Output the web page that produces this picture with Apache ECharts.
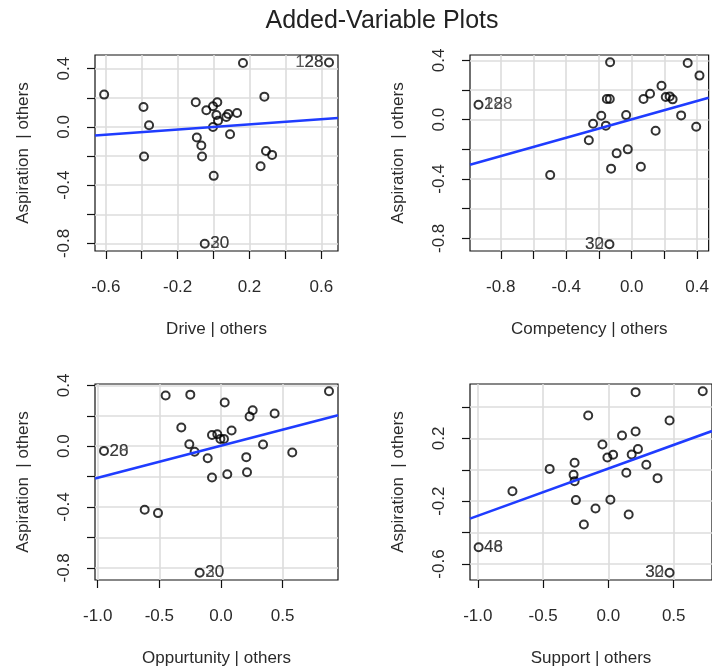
<!DOCTYPE html>
<html lang="en">

<head>
    <meta charset="UTF-8">
    <title>Added-Variable Plots</title>
    <script src="https://cdn.jsdelivr.net/npm/echarts@6/dist/echarts.min.js"></script>
    <style>
        html, body { margin: 0; padding: 0; background: #fff; }
        #av { width: 712px; height: 670px; }
    </style>
</head>

<body>
    <div id="av"></div>

    <script>
        // Drive | others
        var driveX = [-0.609, 0.164, 0.643, -0.390, -0.359, -0.387, -0.099, -0.040, -0.003, 0.021, 0.016, 0.025, -0.003,
            0.071, 0.082, 0.131, 0.283, 0.092, -0.093, -0.068, -0.064, 0.001, 0.262, 0.292, 0.326, -0.049];
        var driveY = [0.222, 0.439, 0.443, 0.137, 0.011, -0.203, 0.169, 0.114, 0.142, 0.169, 0.082, 0.043, 0.000,
            0.069, 0.089, 0.096, 0.208, -0.050, -0.073, -0.128, -0.203, -0.336, -0.270, -0.165, -0.192, -0.802];
        var driveIds = [[2, '128'], [2, '28'], [25, '20'], [25, '30']];
        var driveFitX = [-0.660, 0.693];
        var driveFitY = [-0.059, 0.061];

        // Competency | others
        var compX = [-0.936, -0.132, 0.342, 0.414, 0.182, 0.112, 0.072, -0.152, -0.134, 0.208, 0.232, 0.250, -0.186,
            -0.034, -0.236, -0.158, 0.302, 0.394, 0.146, -0.262, -0.092, -0.024, -0.126, 0.056, -0.498, -0.136];
        var compY = [0.101, 0.387, 0.382, 0.297, 0.229, 0.175, 0.139, 0.139, 0.139, 0.153, 0.157, 0.137, 0.027,
            0.031, -0.027, -0.040, 0.029, -0.047, -0.074, -0.139, -0.227, -0.200, -0.330, -0.317, -0.373, -0.840];
        var compIds = [[0, '128'], [0, '28'], [25, '32'], [25, '30']];
        var compFitX = [-0.988, 0.470];
        var compFitY = [-0.303, 0.148];

        // Oppurtunity | others
        var oppX = [-0.949, -0.449, -0.249, 0.876, 0.030, 0.257, 0.232, 0.435, -0.322, -0.073, -0.030, -0.005, 0.024,
            0.086, -0.257, -0.214, 0.341, 0.578, -0.108, 0.205, 0.211, -0.073, 0.051, -0.619, -0.511, -0.173];
        var oppY = [-0.031, 0.333, 0.339, 0.361, 0.287, 0.236, 0.195, 0.215, 0.123, 0.074, 0.079, 0.048, 0.048,
            0.103, 0.013, -0.037, 0.011, -0.042, -0.079, -0.072, -0.171, -0.206, -0.184, -0.418, -0.440, -0.832];
        var oppIds = [[0, '28'], [0, '20'], [25, '20'], [25, '30']];
        var oppFitX = [-1.022, 0.949];
        var oppFitY = [-0.212, 0.203];

        // Support | others
        var supX = [-0.994, 0.208, 0.722, -0.155, 0.468, 0.208, 0.104, -0.046, -0.008, 0.036, 0.178, 0.226, -0.259,
            -0.450, 0.290, -0.267, -0.259, 0.137, 0.376, -0.735, -0.249, 0.015, -0.099, 0.155, -0.188, 0.468];
        var supY = [-0.493, 0.495, 0.501, 0.346, 0.314, 0.244, 0.219, 0.161, 0.079, 0.096, 0.098, 0.132, 0.045,
            0.006, 0.032, -0.032, -0.072, -0.019, -0.053, -0.136, -0.193, -0.191, -0.246, -0.285, -0.348, -0.656];
        var supIds = [[0, '46'], [0, '48'], [25, '32'], [25, '30']];
        var supFitX = [-1.060, 0.793];
        var supFitY = [-0.311, 0.247];

        // ticks / labels
        var ticksFine = [-0.8, -0.6, -0.4, -0.2, 0, 0.2, 0.4, 0.6];
        var labelsFine = [-0.8, -0.4, 0, 0.4];
        var driveXLabels = [-0.6, -0.2, 0.2, 0.6];
        var ticksHalf = [-1, -0.5, 0, 0.5];
        var supYTicks = [-0.6, -0.4, -0.2, 0, 0.2, 0.4];
        var supYLabels = [-0.6, -0.2, 0.2];

        var panels = [
            { name: 'Drive | others', x: driveX, y: driveY, ids: driveIds, fx: driveFitX, fy: driveFitY,
              xr: [-0.660, 0.693], yr: [-0.852, 0.494], xt: ticksFine, xl: driveXLabels, yt: ticksFine, yl: labelsFine,
              left: 95, top: 55 },
            { name: 'Competency | others', x: compX, y: compY, ids: compIds, fx: compFitX, fy: compFitY,
              xr: [-0.988, 0.470], yr: [-0.885, 0.436], xt: ticksFine, xl: labelsFine, yt: ticksFine, yl: labelsFine,
              left: 470, top: 55 },
            { name: 'Oppurtunity | others', x: oppX, y: oppY, ids: oppIds, fx: oppFitX, fy: oppFitY,
              xr: [-1.022, 0.949], yr: [-0.880, 0.409], xt: ticksHalf, xl: ticksHalf, yt: ticksFine, yl: labelsFine,
              left: 95, top: 384 },
            { name: 'Support | others', x: supX, y: supY, ids: supIds, fx: supFitX, fy: supFitY,
              xr: [-1.060, 0.793], yr: [-0.702, 0.547], xt: ticksHalf, xl: ticksHalf, yt: supYTicks, yl: supYLabels,
              left: 470, top: 384 }
        ];

        var font = '"Liberation Sans", Arial, Helvetica, sans-serif';
        var textCol = '#2a2a2a';
        function fmt(v) { return (Math.abs(v) < 1e-9 ? 0 : v).toFixed(1); }
        function within(arr, r) { return arr.filter(function (v) { return v >= r[0] && v <= r[1]; }); }

        var grids = [], xAxes = [], yAxes = [], series = [];

        panels.forEach(function (p, i) {
            grids.push({ left: p.left, top: p.top, width: 243, height: 196, show: true,
                borderColor: '#111', borderWidth: 1.2, backgroundColor: 'transparent' });

            xAxes.push({
                type: 'value', gridIndex: i, min: p.xr[0], max: p.xr[1],
                name: p.name, nameLocation: 'middle', nameGap: 70,
                nameTextStyle: { fontFamily: font, fontSize: 17, color: textCol },
                axisLine: { show: false, onZero: false },
                axisTick: { show: true, length: 8, inside: false, customValues: within(p.xt, p.xr),
                    lineStyle: { color: '#111', width: 1.2 } },
                axisLabel: { customValues: within(p.xl, p.xr), formatter: fmt, margin: 28,
                    fontFamily: font, fontSize: 17, color: textCol },
                splitLine: { show: true, lineStyle: { color: '#dcdcdc', width: 1.6 } }
            });

            yAxes.push({
                type: 'value', gridIndex: i, min: p.yr[0], max: p.yr[1],
                name: 'Aspiration  | others', nameLocation: 'middle', nameGap: 63, nameRotate: 90,
                nameTextStyle: { fontFamily: font, fontSize: 17, color: textCol },
                axisLine: { show: false, onZero: false },
                axisTick: { show: true, length: 8, inside: false, customValues: within(p.yt, p.yr),
                    lineStyle: { color: '#111', width: 1.2 } },
                axisLabel: { customValues: within(p.yl, p.yr), formatter: fmt, rotate: 90, margin: 22,
                    fontFamily: font, fontSize: 17, color: textCol },
                splitLine: { show: true, lineStyle: { color: '#dcdcdc', width: 1.6 } }
            });

            var pts = p.x.map(function (v, k) { return [v, p.y[k]]; });
            series.push({
                type: 'scatter', xAxisIndex: i, yAxisIndex: i, data: pts,
                symbol: 'circle', symbolSize: 8, z: 3,
                itemStyle: { color: 'rgba(0,0,0,0)', borderColor: '#000', borderWidth: 2 },
                emphasis: { disabled: true }, silent: true
            });

            var mid = (Math.min.apply(null, p.x) + Math.max.apply(null, p.x)) / 2;
            series.push({
                type: 'scatter', xAxisIndex: i, yAxisIndex: i, symbolSize: 1, z: 4,
                itemStyle: { color: 'rgba(0,0,0,0)' }, silent: true,
                data: p.ids.map(function (d) {
                    var k = d[0];
                    return {
                        value: [p.x[k], p.y[k]],
                        label: { show: true, formatter: d[1], position: p.x[k] > mid ? 'left' : 'right',
                            distance: 5, fontFamily: font, fontSize: 17, color: '#333' }
                    };
                })
            });

            series.push({
                type: 'line', xAxisIndex: i, yAxisIndex: i, z: 5, symbol: 'none', silent: true,
                data: p.fx.map(function (v, k) { return [v, p.fy[k]]; }),
                lineStyle: { color: '#1f3cff', width: 2.6 }
            });
        });

        var avChart = echarts.init(document.getElementById('av'));
        avChart.setOption({
            animation: false,
            title: {
                text: 'Added-Variable Plots', left: 377, top: 4, textAlign: 'center',
                textStyle: { fontFamily: font, fontSize: 25, fontWeight: 'normal', color: '#222' }
            },
            grid: grids,
            xAxis: xAxes,
            yAxis: yAxes,
            series: series
        });
    </script>
</body>

</html>
